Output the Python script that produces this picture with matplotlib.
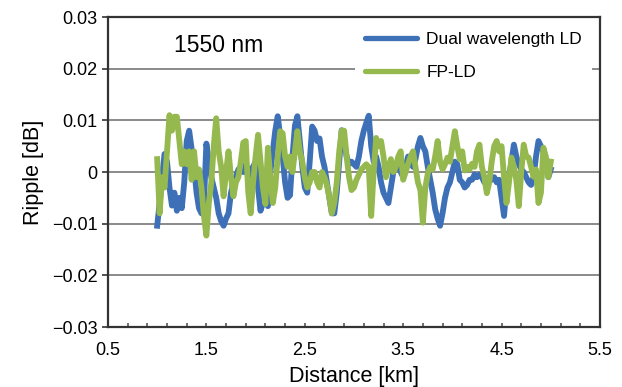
import numpy as np
import matplotlib
matplotlib.use('Agg')
import matplotlib.pyplot as plt

# ripple values in units of 0.001 dB, sampled every 0.025 km from 1 to 5 km
dual_ld = [-10.4, -6, -1, 3.5, 2, -3, -6.5, -4, -7.5, -5, -7, -2,
           6, 8, 4.5, 1, -4, -7, -8, -6, 5.5, 2, -1, -3,
           -5, -8, -9.5, -10.4, -9, -8, -4, -2, -1, 0.5, 1, 0,
           1.5, -1, 0.5, 1, 2, -3, -7.5, -6, -4, -6.6, 0, 4,
           8, 10.8, 7, 3, -2, -5, -4.5, 3, 9, 10.8, 6, 1,
           -3, -4, 2, 8.8, 8, 6, 6.5, 3, 1, -2, -5, -8,
           -8, -4, 2, 8.1, 6, 3, 1.5, 2, 1.5, 1, 3, 6,
           8, 9.5, 10.9, 5, 2, 3, 1, -2, -4, -5, -6, -3,
           0, 1, 2, 0, -1, 1, 3, 2, 1, 2.5, 5, 6.6,
           5, 4, 1, -1.5, -4, -7.2, -9, -10.4, -8, -5, -3, -2,
           0, 2, 1.5, -1.5, -2, -3, -2.5, -1.5, -1.5, -0.5, -1, -0.5,
           -1, -2, -1.5, -1, -1.5, -1, -2, -1.5, -5, -8.5, -3, -1,
           2, 5.3, 3, 1.5, 0.5, 0, -1, -2, -2.5, -1, 3, 6,
           5, 4, 1, -1, 0.5]
fp_ld = [2.5, -8, -1, -3, 4, 11, 8, 10.7, 10.7, 6, 1.5, 4,
         1.5, 4, -1.5, 4, -1, 0.5, -3, -8.5, -12.3, -6, -2, 5,
         10.4, 4, 1, -4.7, 0, 4, -1, -4.7, -2, -1, 2, 5.7,
         6, -3.8, -8, -2, 3, 7.2, 2, -3, -6.2, 4.7, -1, -6,
         -3, 3, 7.9, 7.5, 3, 1, 3, 0, 4, 7.9, 4, 2,
         -1, -3, -2, 0, 0, -2, -3, 0, -1, -2.5, -5, -8,
         -6, -2, 4, 8, 8, 3, -1, -3.5, -3, -1.5, -0.5, 0.5,
         1, 1.5, 1, -8.5, 0, 6.6, 5, 6, 3, -1, 1, 2.5,
         0, 1, 3, 4, -1.5, 0, 1.6, 3, 4, 1, -2, -3.5,
         -9.8, -3, -0.3, 1, 0.5, 3, 6, 2, 0.5, 1.5, 2.8, 2,
         5, 7.9, 5, 2.5, 4, 0.3, 1, 0.5, 1.6, 1, 4, 5.3,
         1, -1, -4.1, -2, 2, 5, 6, 4, 5, -1, -6, -2,
         2.8, 1, -1.6, -6.6, 0, 5.3, 3, 2.8, 1, -0.9, 0.5, -6,
         -4, 4.7, 3, -1, 2]
distance = np.linspace(1.0, 5.0, len(dual_ld))
labels = ['Dual wavelength LD', 'FP-LD']
yticks = [-0.03, -0.02, -0.01, 0, 0.01, 0.02, 0.03]
ytick_labels = ['\u22120.03', '\u22120.02', '\u22120.01', '0', '0.01', '0.02', '0.03']
xticks = [0.5, 1.5, 2.5, 3.5, 4.5, 5.5]

plt.rcParams['font.family'] = ['Liberation Sans', 'DejaVu Sans']

fig = plt.figure(figsize=(6.22, 3.87), dpi=100)
ax = fig.add_axes([0.1736, 0.155, 0.7910, 0.801])

for y in [-0.02, -0.01, 0, 0.01, 0.02]:
    ax.axhline(y, color='#8a8a8a', lw=1.4, zorder=1)

ax.plot(distance, np.array(dual_ld) / 1000, color='#3d70b7', lw=4.2, zorder=2,
        solid_joinstyle='round', label=labels[0])
ax.plot(distance, np.array(fp_ld) / 1000, color='#95b94f', lw=4.2, zorder=3,
        solid_joinstyle='round', label=labels[1])

ax.set_xlim(0.5, 5.5)
ax.set_ylim(-0.03, 0.03)
ax.set_xticks(xticks)
ax.set_xticks(np.arange(0.5, 5.51, 0.2), minor=True)
ax.set_yticks(yticks)
ax.set_yticklabels(ytick_labels)
ax.tick_params(axis='x', which='both', direction='in', length=3, width=1.2, color='#555555',
               labelsize=13, pad=11)
ax.tick_params(axis='y', direction='out', length=4, width=1.2, color='#333333', labelsize=13)
for s in ax.spines.values():
    s.set_linewidth(1.6)
    s.set_color('#333333')

ax.set_xlabel('Distance [km]', fontsize=15.5, labelpad=5)
ax.set_ylabel('Ripple [dB]', fontsize=15.5, labelpad=6)
ax.text(1.62, 0.0245, '1550 nm', fontsize=16.5, ha='center', va='center')

leg = ax.legend(loc='upper left', bbox_to_anchor=(0.502, 0.985), borderaxespad=0,
                fontsize=12.5, handlelength=3.0, handletextpad=0.5, labelspacing=1.0,
                borderpad=0.6, frameon=True, fancybox=False, framealpha=1)
leg.get_frame().set_edgecolor('none')
leg.get_frame().set_facecolor('white')
for h in leg.get_lines():
    h.set_linewidth(3.8)
    h.set_solid_capstyle('round')

fig.savefig('out.png', dpi=100)
